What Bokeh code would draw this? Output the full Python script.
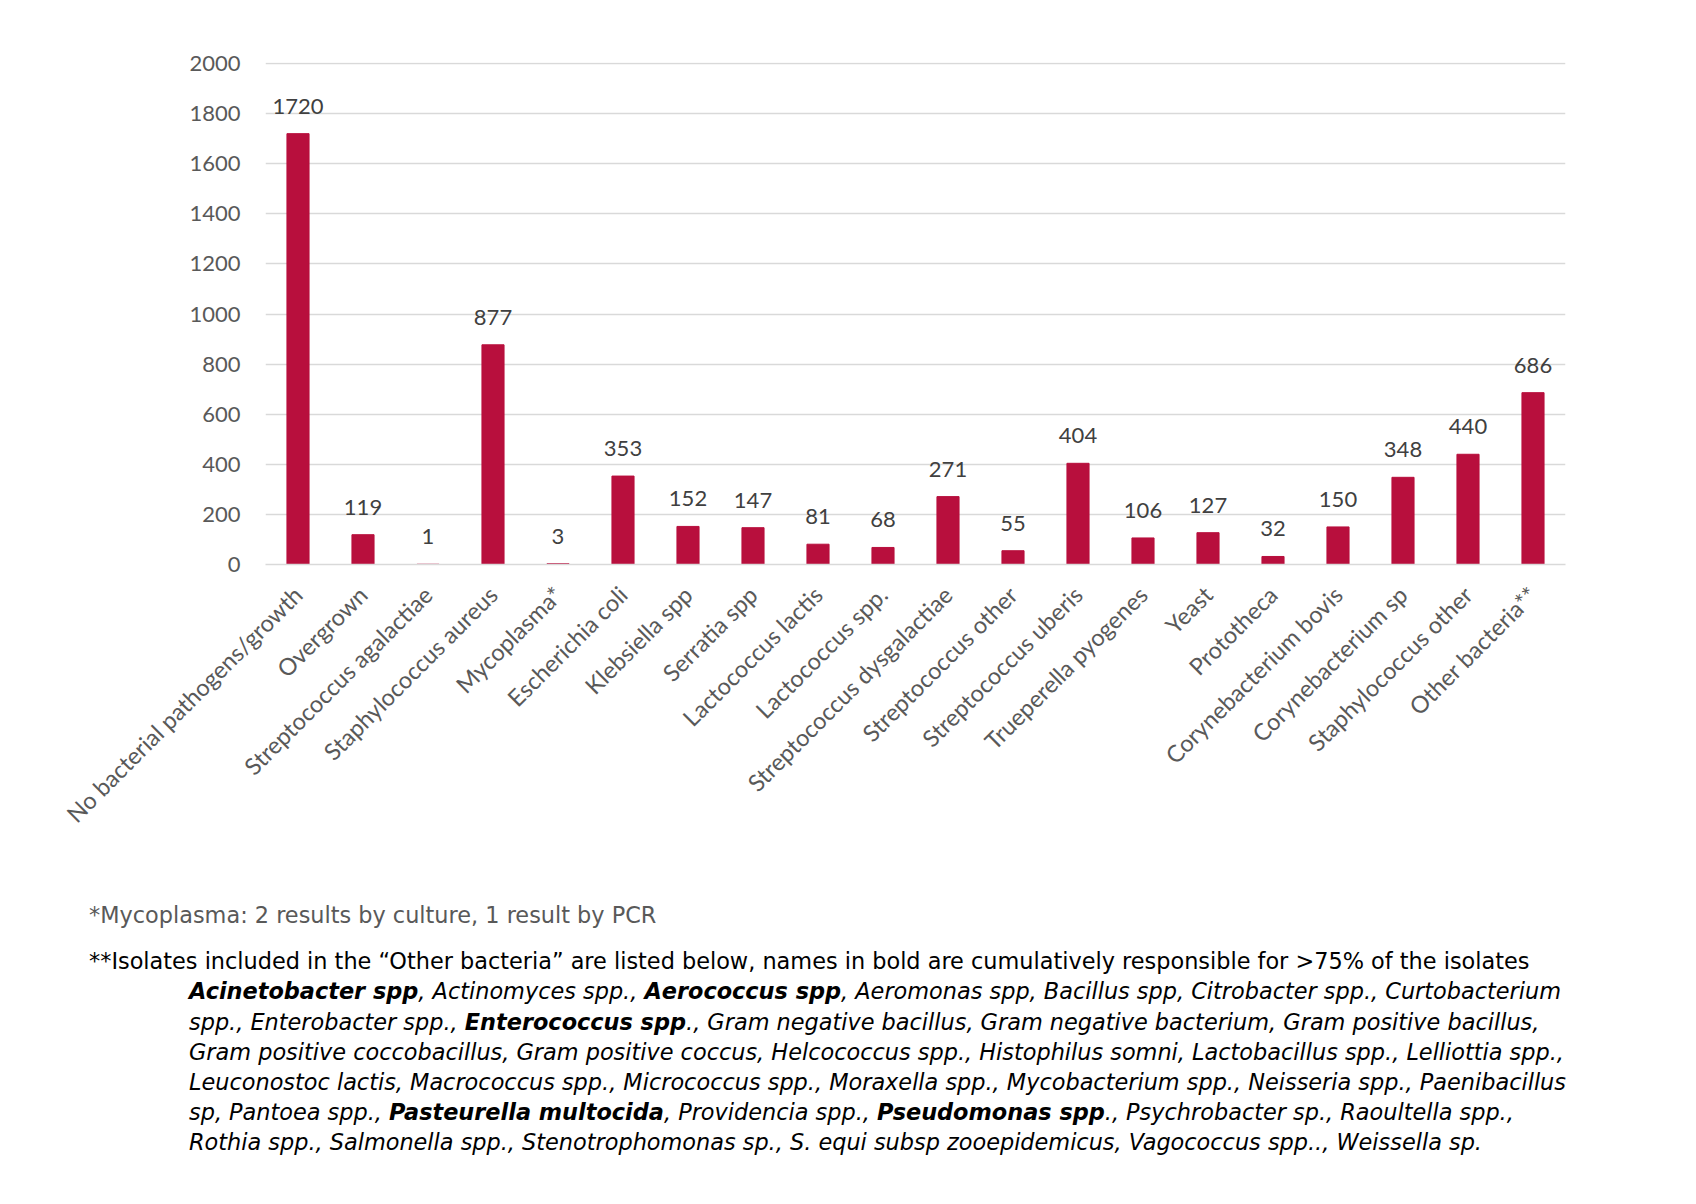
import math
from bokeh.plotting import figure
from bokeh.models import ColumnDataSource, Div, FactorRange, Range1d
from bokeh.layouts import column
from bokeh.embed import file_html
from bokeh.resources import INLINE
from bokeh.core.properties import value

categories = [
    "No bacterial pathogens/growth", "Overgrown", "Streptococcus agalactiae",
    "Staphylococcus aureus", "Mycoplasma*", "Escherichia coli", "Klebsiella spp",
    "Serratia spp", "Lactococcus lactis", "Lactococcus spp.",
    "Streptococcus dysgalactiae", "Streptococcus other", "Streptococcus uberis",
    "Trueperella pyogenes", "Yeast", "Prototheca", "Corynebacterium bovis",
    "Corynebacterium sp", "Staphylococcus other", "Other bacteria**",
]
counts = [1720, 119, 1, 877, 3, 353, 152, 147, 81, 68, 271, 55, 404, 106, 127, 32, 150, 348, 440, 686]
y_ticks = [0, 200, 400, 600, 800, 1000, 1200, 1400, 1600, 1800, 2000]

footnote_1 = "*Mycoplasma: 2 results by culture, 1 result by PCR"
footnote_2 = ("**Isolates included in the \u201cOther bacteria\u201d are listed below, names in bold "
              "are cumulatively responsible for >75% of the isolates")
# (text, bold) segments per line
isolate_lines = [
    [("Acinetobacter spp", True), (", Actinomyces spp., ", False), ("Aerococcus spp", True),
     (", Aeromonas spp, Bacillus spp, Citrobacter spp., Curtobacterium", False)],
    [("spp., Enterobacter spp., ", False), ("Enterococcus spp", True),
     ("., Gram negative bacillus, Gram negative bacterium, Gram positive bacillus,", False)],
    [("Gram positive coccobacillus, Gram positive coccus, Helcococcus spp., Histophilus somni, "
      "Lactobacillus spp., Lelliottia spp.,", False)],
    [("Leuconostoc lactis, Macrococcus spp., Micrococcus spp., Moraxella spp., Mycobacterium spp., "
      "Neisseria spp., Paenibacillus", False)],
    [("sp, Pantoea spp., ", False), ("Pasteurella multocida", True), (", Providencia spp., ", False),
     ("Pseudomonas spp", True), ("., Psychrobacter sp., Raoultella spp.,", False)],
    [("Rothia spp., Salmonella spp., Stenotrophomonas sp., S. equi subsp zooepidemicus, "
      "Vagococcus spp.., Weissella sp.", False)],
]

BAR = "#B80F3D"
GRID = "#D9D9D9"
FONT = "Lato"

src = ColumnDataSource(data=dict(cat=categories, count=counts, label=[str(c) for c in counts]))

p = figure(
    x_range=FactorRange(factors=categories, range_padding=0),
    y_range=Range1d(0, 2004),
    width=1680, height=880,
    output_backend="svg", toolbar_location=None,
    min_border_left=265, min_border_right=115, min_border_top=62, min_border_bottom=316,
)
p.vbar(x="cat", top="count", width=0.34, source=src, fill_color=BAR, line_color=BAR)
p.text(x="cat", y="count", text="label", source=src, text_align="center",
       text_baseline="bottom", y_offset=-20, text_font=value(FONT),
       text_font_size="22px", text_color="#404040")

p.outline_line_color = None
p.xgrid.visible = False
p.ygrid.grid_line_color = GRID
p.ygrid.grid_line_width = 1.6
p.yaxis.ticker = y_ticks
p.yaxis.axis_line_color = None
p.yaxis.major_tick_line_color = None
p.yaxis.minor_tick_line_color = None
p.yaxis.major_label_text_font = FONT
p.yaxis.major_label_text_font_size = "22px"
p.yaxis.major_label_text_color = "#595959"
p.yaxis.major_label_standoff = 19

p.xaxis.axis_line_color = GRID
p.xaxis.axis_line_width = 1.6
p.xaxis.major_tick_line_color = None
p.xaxis.minor_tick_line_color = None
p.xaxis.major_label_orientation = math.pi / 4
p.xaxis.major_label_text_font = FONT
p.xaxis.major_label_text_font_size = "23.5px"
p.xaxis.major_label_text_color = "#595959"
p.xaxis.major_label_standoff = 20

def seg_html(text, bold):
    t = text.replace("&", "&amp;").replace("<", "&lt;").replace(">", "&gt;")
    return f"<b>{t}</b>" if bold else t

lines_html = "".join(
    "<div style='padding-left:100px;font-style:italic;'>" + "".join(seg_html(t, b) for t, b in line) + "</div>"
    for line in isolate_lines
)
fn2 = footnote_2.replace(">", "&gt;")
html = (
    "<div style=\"font-family:'DejaVu Sans';font-size:22.4px;line-height:30.2px;"
    "white-space:nowrap;color:#000;padding-left:89px;padding-top:20px;\">"
    f"<div style='color:#595959;'>{footnote_1}</div>"
    f"<div style='margin-top:16px;'>{fn2}</div>"
    f"{lines_html}"
    "</div>"
)
div = Div(text=html, width=1680, height=316, margin=(0, 0, 0, 0))

layout = column(p, div, spacing=0)
open("out.html", "w").write(file_html(layout, INLINE))
